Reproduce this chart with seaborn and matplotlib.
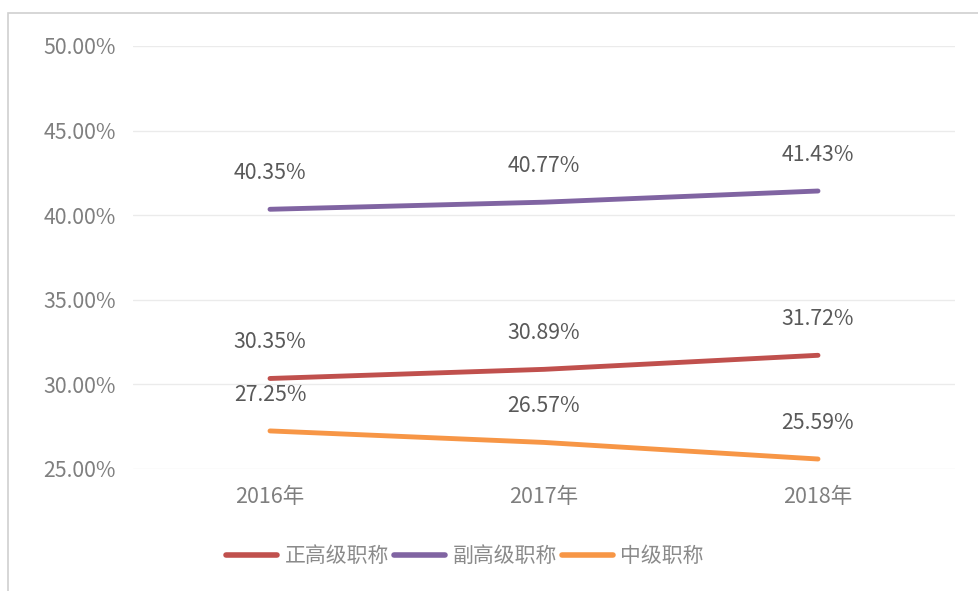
import numpy as np
import pandas as pd
import seaborn as sns
import matplotlib.pyplot as plt
from matplotlib.patches import Rectangle

YEARS = ['2016年', '2017年', '2018年']
SERIES = ['正高级职称', '副高级职称', '中级职称']
ZHENG = [30.35, 30.89, 31.72]
FU = [40.35, 40.77, 41.43]
ZHONG = [27.25, 26.57, 25.59]
CLRS = ['#C0504D', '#8064A2', '#F79646']

df = pd.DataFrame({
    'year': YEARS * 3,
    'pct': ZHENG + FU + ZHONG,
    'grade': sum([[s] * 3 for s in SERIES], []),
})

sns.set_style('white')
plt.rcParams['font.family'] = ['Noto Sans CJK SC', 'DejaVu Sans']

W, H = 979, 591
fig = plt.figure(figsize=(W / 100, H / 100), dpi=100)
fig.patches.append(Rectangle((8 / W, -0.1), 1, 1.1 - 13 / H, transform=fig.transFigure,
                             fill=False, edgecolor='#D0D0D0', linewidth=1.2))
ax = fig.add_axes([133 / W, 1 - 469 / H, 822 / W, 423 / H])

sns.lineplot(data=df, x='year', y='pct', hue='grade', hue_order=SERIES,
             palette=CLRS, linewidth=3.5, sort=False, ax=ax, legend=True)
for ln in ax.lines:
    ln.set_solid_capstyle('round')

for i, s in enumerate(SERIES):
    vals = df[df['grade'] == s]
    for j, (_, r) in enumerate(vals.iterrows()):
        ax.annotate('{:.2f}%'.format(r['pct']), (j, r['pct']), xytext=(0, 26),
                    textcoords='offset points', ha='center', va='center',
                    fontsize=15.3, color='#595959')

ax.set_xlim(-0.5, 2.5)
ax.set_ylim(25, 50)
ax.set_yticks(np.arange(25, 50.1, 5))
ax.set_yticklabels(['{:.2f}%'.format(v) for v in np.arange(25, 50.1, 5)])
ax.grid(axis='y', color='#EBEBEB', linewidth=1)
ax.tick_params(axis='y', length=0, pad=12.5, labelsize=15.3, labelcolor='#7F7F7F')
ax.tick_params(axis='x', length=0, pad=12.5, labelsize=15.5, labelcolor='#7F7F7F')
ax.set_xlabel('')
ax.set_ylabel('')
for sp in ax.spines.values():
    sp.set_visible(False)

leg = ax.legend(loc='center', bbox_to_anchor=(465 / W, 1 - 556 / H),
                bbox_transform=fig.transFigure, ncol=3, frameon=False,
                handlelength=2.45, handletextpad=0.35, columnspacing=0.25,
                fontsize=15)
for t in leg.get_texts():
    t.set_color('#8A8A8A')
for h in leg.get_lines():
    h.set_linewidth(4)
    h.set_solid_capstyle('round')

fig.savefig('out.png', dpi=100)
